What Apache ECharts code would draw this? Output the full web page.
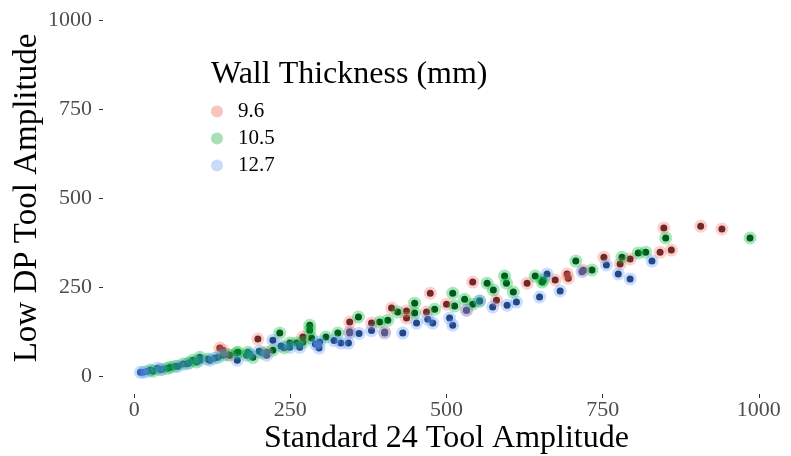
<!DOCTYPE html>
<html>
<head>
<meta charset="utf-8">
<script src="https://cdn.jsdelivr.net/npm/echarts@6/dist/echarts.min.js"></script>
<style>
  html, body { margin: 0; padding: 0; background: #fff; }
  #chart { width: 791px; height: 456px; }
</style>
</head>
<body>
<div id="chart"></div>
<script>
// wall thickness groups, [standard 24 amplitude, low DP amplitude]
var groups = ['9.6', '10.5', '12.7'];

var wt96 = [
  [137, 79], [142, 73], [153, 59], [198, 104], [212, 67], [270, 110], [345, 152],
  [345, 125], [380, 149], [401, 124], [412, 191], [436, 183], [436, 163], [468, 180],
  [474, 233], [500, 202], [532, 185], [542, 264], [580, 213], [629, 261], [674, 270],
  [693, 287], [695, 275], [719, 297], [752, 334], [778, 315], [794, 329], [842, 348],
  [848, 416], [860, 354], [907, 421], [941, 413]
];

var wt105 = [
  [26, 17], [30, 14], [42, 18], [53, 22], [58, 25], [66, 28], [78, 34], [88, 38],
  [94, 45], [100, 40], [105, 53], [118, 48], [134, 53], [150, 60], [164, 65], [166, 67],
  [180, 59], [182, 67], [190, 53], [205, 65], [222, 73], [233, 121], [240, 80], [249, 93],
  [260, 93], [270, 95], [281, 143], [281, 129], [284, 107], [307, 110], [326, 121],
  [359, 166], [393, 152], [406, 157], [422, 180], [449, 205], [449, 177], [481, 188],
  [510, 233], [513, 197], [529, 216], [542, 202], [553, 211], [565, 261], [575, 242],
  [593, 281], [596, 261], [607, 236], [642, 281], [653, 264], [655, 270], [707, 323],
  [733, 298], [781, 334], [807, 346], [819, 348], [851, 388], [986, 388]
];

var wt127 = [
  [10, 11], [14, 11], [20, 13], [37, 22], [45, 20], [70, 28], [85, 35], [105, 45],
  [121, 45], [128, 50], [142, 59], [165, 45], [185, 62], [200, 70], [212, 59], [222, 101],
  [235, 85], [249, 81], [265, 81], [290, 90], [296, 79], [297, 96], [320, 100], [331, 93],
  [343, 93], [345, 121], [360, 120], [380, 128], [401, 121], [430, 121], [452, 149],
  [470, 160], [478, 149], [505, 163], [510, 143], [532, 185], [553, 211], [574, 194],
  [597, 199], [612, 208], [649, 222], [661, 287], [682, 239], [717, 293], [756, 312],
  [775, 287], [794, 273], [829, 323]
];

var xTicks = [0, 250, 500, 750, 1000];
var yTicks = [0, 250, 500, 750, 1000];

var groupData = [wt96, wt105, wt127];
var darkColors = ['#2a0303', '#012a0a', '#071b45'];
var haloColors = ['#F8766D', '#00BA38', '#619CFF'];
var legendColors = ['#f7c4c0', '#a9e0b6', '#c9dbfb'];

var serif = '"Liberation Serif", "DejaVu Serif", serif';

var series = [];
// dark centres first
groups.forEach(function(g, i) {
  series.push({
    name: g,
    type: 'scatter',
    data: groupData[i],
    symbolSize: 7,
    itemStyle: { color: darkColors[i], opacity: 1 },
    emphasis: { disabled: true }
  });
});
// translucent halos on top
groups.forEach(function(g, i) {
  series.push({
    name: g,
    type: 'scatter',
    data: groupData[i],
    symbolSize: 13,
    itemStyle: { color: haloColors[i], opacity: 0.34 },
    emphasis: { disabled: true }
  });
});

var chart = echarts.init(document.getElementById('chart'));

var labelFmt = function(v) { return String(v); };

chart.setOption({
  backgroundColor: '#fff',
  animation: false,
  title: {
    text: 'Wall Thickness (mm)',
    left: 211,
    top: 59,
    padding: 0,
    textStyle: { fontFamily: serif, fontSize: 32, fontWeight: 'normal', color: '#000' }
  },
  legend: {
    orient: 'vertical',
    left: 211,
    top: 98,
    padding: 0,
    itemGap: 0,
    itemWidth: 32,
    itemHeight: 12,
    icon: 'circle',
    selectedMode: false,
    data: groups.map(function(g, i) {
      return { name: g, itemStyle: { color: legendColors[i], opacity: 1 } };
    }),
    textStyle: { fontFamily: serif, fontSize: 21, color: '#000', lineHeight: 27 }
  },
  // panel is padded 5% beyond 0..1000 on each side, like the original
  grid: { left: 103, right: 1, top: 2, bottom: 62, outerBoundsMode: 'none' },
  xAxis: {
    type: 'value',
    min: -50,
    max: 1050,
    name: 'Standard 24 Tool Amplitude',
    nameLocation: 'middle',
    nameGap: 29,
    nameMoveOverlap: false,
    nameTextStyle: { fontFamily: serif, fontSize: 32, color: '#000' },
    axisLine: { show: false, onZero: false },
    axisTick: { show: true, length: 4, customValues: xTicks, lineStyle: { color: '#333' } },
    axisLabel: { fontFamily: serif, fontSize: 22, color: '#4d4d4d', margin: 5,
                 customValues: xTicks, formatter: labelFmt },
    splitLine: { show: false }
  },
  yAxis: {
    type: 'value',
    min: -50,
    max: 1050,
    name: 'Low DP Tool Amplitude',
    nameLocation: 'middle',
    nameGap: 59,
    nameMoveOverlap: false,
    nameTextStyle: { fontFamily: serif, fontSize: 33, color: '#000' },
    axisLine: { show: false, onZero: false },
    axisTick: { show: true, length: 4, customValues: yTicks, lineStyle: { color: '#333' } },
    axisLabel: { fontFamily: serif, fontSize: 22, color: '#4d4d4d', margin: 11,
                 customValues: yTicks, formatter: labelFmt },
    splitLine: { show: false }
  },
  series: series
});
</script>
</body>
</html>
